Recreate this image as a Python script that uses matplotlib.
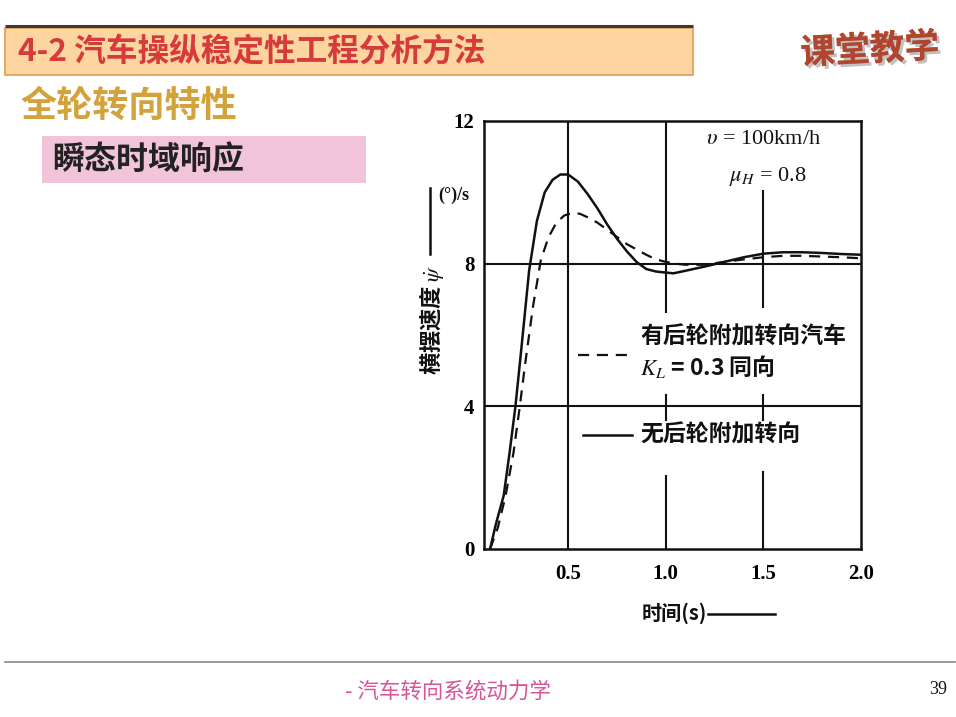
import matplotlib
matplotlib.use('Agg')
import matplotlib.pyplot as plt
from matplotlib.patches import Rectangle
import matplotlib.patheffects as pe

CJK = ['Noto Sans CJK SC', 'DejaVu Sans']
SERIF = ['Liberation Serif', 'DejaVu Serif']
plt.rcParams['font.family'] = CJK
plt.rcParams['mathtext.fontset'] = 'stix'

# ---------------- data ----------------
title = "4-2 汽车操纵稳定性工程分析方法"
subtitle = "全轮转向特性"
section = "瞬态时域响应"
badge = "课堂教学"
footer = "- 汽车转向系统动力学"
page_no = "39"

# 无后轮附加转向 (solid)
t_solid = [0.10, 0.13, 0.17, 0.20, 0.23, 0.26, 0.30, 0.34, 0.38, 0.42, 0.46, 0.50,
           0.55, 0.60, 0.65, 0.70, 0.75, 0.80, 0.85, 0.90, 0.95, 1.00, 1.04, 1.10,
           1.20, 1.30, 1.40, 1.50, 1.60, 1.70, 1.80, 1.90, 2.00]
v_solid = [0.0, 0.7, 1.5, 2.7, 4.0, 5.6, 7.8, 9.2, 10.0, 10.35, 10.5, 10.5,
           10.3, 9.95, 9.55, 9.1, 8.7, 8.35, 8.05, 7.85, 7.78, 7.75, 7.73, 7.8,
           7.92, 8.05, 8.18, 8.28, 8.32, 8.32, 8.3, 8.27, 8.25]

# 有后轮附加转向汽车 K_L = 0.3 同向 (dashed)
t_dash = [0.10, 0.14, 0.18, 0.22, 0.25, 0.28, 0.32, 0.36, 0.40, 0.44, 0.48, 0.52,
          0.56, 0.60, 0.65, 0.70, 0.75, 0.80, 0.85, 0.90, 0.95, 1.00, 1.05, 1.10,
          1.20, 1.30, 1.40, 1.50, 1.60, 1.70, 1.80, 1.90, 2.00]
v_dash = [0.0, 0.6, 1.5, 2.7, 3.9, 5.2, 6.8, 8.1, 8.75, 9.15, 9.35, 9.42,
          9.4, 9.3, 9.15, 8.95, 8.75, 8.55, 8.4, 8.25, 8.12, 8.05, 8.0, 7.97,
          7.97, 8.05, 8.12, 8.18, 8.22, 8.22, 8.2, 8.18, 8.15]

x_ticks = [0.5, 1.0, 1.5, 2.0]
x_ticklabels = ['0.5', '1.0', '1.5', '2.0']
y_ticks = [0, 4, 8, 12]
y_ticklabels = ['0', '4', '8', '12']

legend_dash = ["有后轮附加转向汽车", r"$K_L$ = 0.3 同向"]
legend_solid = "无后轮附加转向"
x_label = "时间(s)"
y_label = r"横摆速度 $\dot{\psi}$"
y_unit = "(°)/s"
cond_v = r"$\upsilon$ = 100km/h"
cond_mu = r"$\mu_H$ = 0.8"

# ---------------- figure ----------------
W, H = 956, 717
fig = plt.figure(figsize=(W / 100, H / 100), dpi=100)
fig.patch.set_facecolor('white')
bg = fig.add_axes([0, 0, 1, 1])
bg.set_xlim(0, W)
bg.set_ylim(H, 0)
bg.axis('off')

# title bar
bg.plot([5, 693], [26, 26], color='#3a3a3a', lw=2.2, solid_capstyle='butt')
bg.add_patch(Rectangle((5, 28), 688, 47, facecolor='#FDD5A0', edgecolor='#D9A050', lw=1.2))
bg.text(18, 52, title, fontsize=22.8, fontweight='bold', color='#D63B3B',
        va='center', ha='left', family=CJK)

# badge
bg.text(870, 50, badge, fontsize=25, fontweight='bold', color='#B2452E',
        va='center', ha='center', family=CJK, rotation=3,
        path_effects=[pe.withStroke(linewidth=3, foreground='white'),
                      pe.SimplePatchShadow(offset=(2, -2), shadow_rgbFace='#999999', alpha=0.6),
                      pe.Normal()])

# subtitle
bg.text(20, 106, subtitle, fontsize=26, fontweight='bold', color='#D4A23A',
        va='center', ha='left', family=CJK)

# pink section box
bg.add_patch(Rectangle((42, 136), 324, 47, facecolor='#F2C4DA', edgecolor='none'))
bg.text(52, 160, section, fontsize=23, fontweight='bold', color='#222222',
        va='center', ha='left', family=CJK)

# footer
bg.plot([5, 955], [662, 662], color='#888888', lw=1.2)
bg.text(345, 692, footer, fontsize=15.5, color='#D8559A', va='center', ha='left', family=CJK)
bg.text(938, 690, page_no, fontsize=13, color='#111111', va='center', ha='center', family=SERIF)

# ---------------- chart ----------------
L, R, T, B = 484, 861, 121, 549
ax = fig.add_axes([L / W, 1 - B / H, (R - L) / W, (B - T) / H])
ax.set_facecolor('none')
ax.set_xlim(0.069, 2.0)
ax.set_ylim(0, 12)
for s in ax.spines.values():
    s.set_linewidth(1.8)
    s.set_color('#111111')

ax.set_xticks(x_ticks)
ax.set_xticklabels(x_ticklabels, family=SERIF, fontsize=15, fontweight='bold')
ax.set_yticks(y_ticks)
ax.set_yticklabels(y_ticklabels, family=SERIF, fontsize=15, fontweight='bold')
ax.tick_params(axis='both', length=0)
ax.tick_params(axis='x', pad=11)
ax.tick_params(axis='y', pad=7)

# grid lines
for yv in [4, 8]:
    ax.axhline(yv, color='#111111', lw=1.5)
ax.axvline(0.5, color='#111111', lw=1.5)
for lo, hi in [(0.553, 1.0), (0.302, 0.36), (0.0, 0.17)]:
    ax.axvline(1.0, ymin=lo, ymax=hi, color='#111111', lw=1.5)
for lo, hi in [(0.565, 0.837), (0.302, 0.36), (0.0, 0.179)]:
    ax.axvline(1.5, ymin=lo, ymax=hi, color='#111111', lw=1.5)

ax.plot(t_solid, v_solid, color='#111111', lw=1.8, solid_joinstyle='round')
ax.plot(t_dash, v_dash, color='#111111', lw=1.6, dashes=(5, 3.5))

# conditions
bg.text(764, 140, cond_v, fontsize=16, color='#111111', va='center', ha='center', family=SERIF)
bg.text(768, 176, cond_mu, fontsize=16, color='#111111', va='center', ha='center', family=SERIF)

# legend
bg.plot([578, 630], [355, 355], color='#111111', lw=1.6, dashes=(5, 3.5))
bg.text(640, 337, legend_dash[0], fontsize=16.5, fontweight='bold', color='#111111',
        va='center', ha='left', family=CJK)
bg.text(640, 366, legend_dash[1], fontsize=16.5, fontweight='bold', color='#111111',
        va='center', ha='left', family=CJK)
bg.plot([583, 632], [435, 435], color='#111111', lw=1.8)
bg.text(640, 435, legend_solid, fontsize=16.5, fontweight='bold', color='#111111',
        va='center', ha='left', family=CJK)

# axis labels
bg.text(642, 613, x_label, fontsize=14.5, fontweight='bold', color='#111111',
        va='center', ha='left', family=CJK)
bg.plot([708, 775], [614, 614], color='#111111', lw=1.8)
bg.text(432, 320, y_label, fontsize=16, fontweight='bold', color='#111111',
        va='center', ha='center', rotation=90, family=CJK)
bg.plot([430, 430], [254, 188], color='#111111', lw=1.8)
bg.text(438, 195, y_unit, fontsize=13, fontweight='bold', color='#111111',
        va='center', ha='left', family=SERIF)

fig.savefig('out.png', dpi=100)
